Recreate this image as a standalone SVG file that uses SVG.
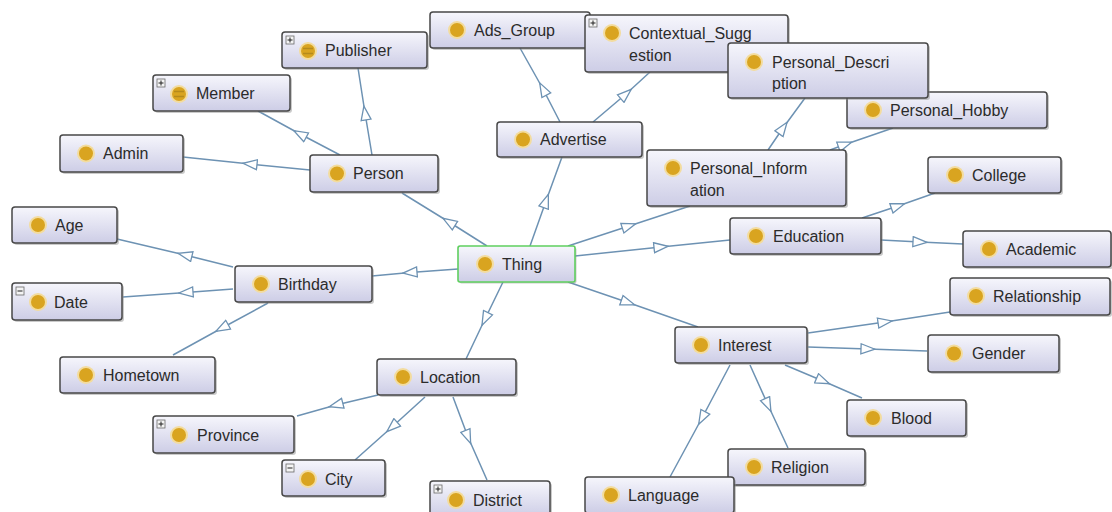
<svg xmlns="http://www.w3.org/2000/svg" width="1112" height="512" viewBox="0 0 1112 512">
<style>
.bg{fill:#fff}
.e{fill:none;stroke:#6d92b3;stroke-width:1.5;marker-mid:url(#ah)}
.sh{fill:#8a8a8a;opacity:.45}
.box{fill:url(#g);stroke:#474747;stroke-width:1.5}
.thing{fill:url(#g);stroke:#5fcf5f;stroke-width:1.6}
.halo{fill:#f3dc9e}
.dot{fill:#d9a420}
.pb{fill:#f4f4f4;stroke:#6a6a6a;stroke-width:.8}
.pl{stroke:#222;stroke-width:1}
.eq{stroke:#b58a1c;stroke-width:1.4}
text{font-family:"Liberation Sans",Arial,sans-serif;font-size:16px;fill:#2b2b2b}
</style>
<defs>
<linearGradient id="g" x1="0" y1="0" x2="0" y2="1">
<stop offset="0" stop-color="#f6f6fc"/>
<stop offset="1" stop-color="#cdcde6"/>
</linearGradient>
<marker id="ah" viewBox="0 0 16 12" refX="8" refY="6" markerWidth="16" markerHeight="12" orient="auto" markerUnits="userSpaceOnUse">
<path d="M1,1 L15,6 L1,11 Z" fill="#fff" stroke="#6d92b3" stroke-width="1.3"/>
</marker>
</defs>
<rect class="bg" width="1112" height="512"/>
<g id="connectors">
<path class="e" d="M487,246 L449,222 L402,193"/>
<path class="e" d="M530,246 L546,201 L562,157"/>
<path class="e" d="M568,246 L629,226 L690,206"/>
<path class="e" d="M575,256 L661,247 L730,240"/>
<path class="e" d="M568,282 L628,302.5 L698,327"/>
<path class="e" d="M503,282 L485,319 L466,359"/>
<path class="e" d="M458,269 L410,272.5 L372,276"/>
<path class="e" d="M310,170 L250,164 L183,157"/>
<path class="e" d="M340,155 L300,134 L258,111"/>
<path class="e" d="M372,155 L365,113 L358,68"/>
<path class="e" d="M560,122 L543,89 L520,48"/>
<path class="e" d="M593,122 L626,94 L650,72"/>
<path class="e" d="M768,150 L783,128 L805,98"/>
<path class="e" d="M830,150 L845,144.5 L893,128"/>
<path class="e" d="M862,218 L898,206 L935,193"/>
<path class="e" d="M881,240 L920,242 L963,244"/>
<path class="e" d="M233,267 L185,255 L117,239"/>
<path class="e" d="M233,289 L186,292.5 L123,297"/>
<path class="e" d="M268,303 L222,328 L173,355"/>
<path class="e" d="M378,395 L336,405 L297,416"/>
<path class="e" d="M425,397 L392,427 L355,460"/>
<path class="e" d="M453,397 L468,437 L487,480"/>
<path class="e" d="M808,333 L885,322 L950,312"/>
<path class="e" d="M808,347 L868,349 L927,351"/>
<path class="e" d="M785,365 L823,381 L862,398"/>
<path class="e" d="M750,365 L768,405 L788,448"/>
<path class="e" d="M730,365 L702,418 L670,477"/>
</g>
<g id="n-Publisher" transform="translate(282,32)">
<rect class="sh" x="2" y="2" width="145" height="36" rx="3"/><rect class="box" width="145" height="36" rx="3"/>
<rect class="pb" x="4" y="4" width="8" height="8"/><path class="pl" d="M5.5,8H10.5M8,5.5V10.5"/>
<circle class="halo" cx="26" cy="19" r="9"/><circle class="dot" cx="26" cy="19" r="7"/><path class="eq" d="M21,16.5H31M21,21.5H31"/>
<text x="43" y="24">Publisher</text></g>
<g id="n-Ads_Group" transform="translate(430,12)">
<rect class="sh" x="2" y="2" width="160" height="36" rx="3"/><rect class="box" width="160" height="36" rx="3"/>
<circle class="halo" cx="27" cy="18" r="9"/><circle class="dot" cx="27" cy="18" r="7"/>
<text x="44" y="23.5">Ads_Group</text></g>
<g id="n-Contextual_Suggestion" transform="translate(585,15)">
<rect class="sh" x="2" y="2" width="203" height="57" rx="3"/><rect class="box" width="203" height="57" rx="3"/>
<rect class="pb" x="4" y="4" width="8" height="8"/><path class="pl" d="M5.5,8H10.5M8,5.5V10.5"/>
<circle class="halo" cx="27" cy="18" r="9"/><circle class="dot" cx="27" cy="18" r="7"/>
<text x="44" y="24">Contextual_Sugg</text><text x="44" y="46">estion</text></g>
<g id="n-Personal_Hobby" transform="translate(847,92)">
<rect class="sh" x="2" y="2" width="200" height="36" rx="3"/><rect class="box" width="200" height="36" rx="3"/>
<circle class="halo" cx="26" cy="18" r="9"/><circle class="dot" cx="26" cy="18" r="7"/>
<text x="43" y="23.5">Personal_Hobby</text></g>
<g id="n-Personal_Description" transform="translate(728,43)">
<rect class="sh" x="2" y="2" width="200" height="55" rx="3"/><rect class="box" width="200" height="55" rx="3"/>
<circle class="halo" cx="26" cy="19" r="9"/><circle class="dot" cx="26" cy="19" r="7"/>
<text x="44" y="24.5">Personal_Descri</text><text x="44" y="45.5">ption</text></g>
<g id="n-Member" transform="translate(153,75)">
<rect class="sh" x="2" y="2" width="137" height="36" rx="3"/><rect class="box" width="137" height="36" rx="3"/>
<rect class="pb" x="4" y="4" width="8" height="8"/><path class="pl" d="M5.5,8H10.5M8,5.5V10.5"/>
<circle class="halo" cx="26" cy="19" r="9"/><circle class="dot" cx="26" cy="19" r="7"/><path class="eq" d="M21,16.5H31M21,21.5H31"/>
<text x="43" y="24">Member</text></g>
<g id="n-Admin" transform="translate(60,135)">
<rect class="sh" x="2" y="2" width="123" height="37" rx="3"/><rect class="box" width="123" height="37" rx="3"/>
<circle class="halo" cx="26" cy="18.5" r="9"/><circle class="dot" cx="26" cy="18.5" r="7"/>
<text x="43" y="24">Admin</text></g>
<g id="n-Person" transform="translate(310,155)">
<rect class="sh" x="2" y="2" width="128" height="37" rx="3"/><rect class="box" width="128" height="37" rx="3"/>
<circle class="halo" cx="27" cy="18.5" r="9"/><circle class="dot" cx="27" cy="18.5" r="7"/>
<text x="43" y="24">Person</text></g>
<g id="n-Advertise" transform="translate(497,122)">
<rect class="sh" x="2" y="2" width="145" height="35" rx="3"/><rect class="box" width="145" height="35" rx="3"/>
<circle class="halo" cx="26" cy="17.5" r="9"/><circle class="dot" cx="26" cy="17.5" r="7"/>
<text x="43" y="23">Advertise</text></g>
<g id="n-Personal_Information" transform="translate(647,150)">
<rect class="sh" x="2" y="2" width="199" height="56" rx="3"/><rect class="box" width="199" height="56" rx="3"/>
<circle class="halo" cx="26" cy="18" r="9"/><circle class="dot" cx="26" cy="18" r="7"/>
<text x="43" y="24">Personal_Inform</text><text x="43" y="46">ation</text></g>
<g id="n-College" transform="translate(928,157)">
<rect class="sh" x="2" y="2" width="133" height="36" rx="3"/><rect class="box" width="133" height="36" rx="3"/>
<circle class="halo" cx="27" cy="18" r="9"/><circle class="dot" cx="27" cy="18" r="7"/>
<text x="44" y="23.5">College</text></g>
<g id="n-Education" transform="translate(730,218)">
<rect class="sh" x="2" y="2" width="151" height="36" rx="3"/><rect class="box" width="151" height="36" rx="3"/>
<circle class="halo" cx="26" cy="18" r="9"/><circle class="dot" cx="26" cy="18" r="7"/>
<text x="43" y="23.5">Education</text></g>
<g id="n-Academic" transform="translate(963,231)">
<rect class="sh" x="2" y="2" width="148" height="36" rx="3"/><rect class="box" width="148" height="36" rx="3"/>
<circle class="halo" cx="26" cy="18" r="9"/><circle class="dot" cx="26" cy="18" r="7"/>
<text x="43" y="23.5">Academic</text></g>
<g id="n-Age" transform="translate(12,207)">
<rect class="sh" x="2" y="2" width="105" height="36" rx="3"/><rect class="box" width="105" height="36" rx="3"/>
<circle class="halo" cx="26" cy="18" r="9"/><circle class="dot" cx="26" cy="18" r="7"/>
<text x="43" y="23.5">Age</text></g>
<g id="n-Date" transform="translate(12,283)">
<rect class="sh" x="2" y="2" width="110" height="37" rx="3"/><rect class="box" width="110" height="37" rx="3"/>
<rect class="pb" x="4" y="4" width="8" height="8"/><path class="pl" d="M5.5,8H10.5"/>
<circle class="halo" cx="26" cy="19" r="9"/><circle class="dot" cx="26" cy="19" r="7"/>
<text x="42" y="24.5">Date</text></g>
<g id="n-Birthday" transform="translate(235,266)">
<rect class="sh" x="2" y="2" width="137" height="36" rx="3"/><rect class="box" width="137" height="36" rx="3"/>
<circle class="halo" cx="26" cy="18" r="9"/><circle class="dot" cx="26" cy="18" r="7"/>
<text x="43" y="23.5">Birthday</text></g>
<g id="n-Hometown" transform="translate(60,357)">
<rect class="sh" x="2" y="2" width="155" height="36" rx="3"/><rect class="box" width="155" height="36" rx="3"/>
<circle class="halo" cx="26" cy="18" r="9"/><circle class="dot" cx="26" cy="18" r="7"/>
<text x="43" y="23.5">Hometown</text></g>
<g id="n-Thing" transform="translate(458,246)">
<rect class="sh" x="1.5" y="1.5" width="117" height="36" rx="2" opacity=".2"/><rect class="thing" width="117" height="36" rx="2"/>
<circle class="halo" cx="27" cy="18" r="9"/><circle class="dot" cx="27" cy="18" r="7"/>
<text x="44" y="23.5">Thing</text></g>
<g id="n-Location" transform="translate(377,359)">
<rect class="sh" x="2" y="2" width="139" height="36" rx="3"/><rect class="box" width="139" height="36" rx="3"/>
<circle class="halo" cx="26" cy="18" r="9"/><circle class="dot" cx="26" cy="18" r="7"/>
<text x="43" y="23.5">Location</text></g>
<g id="n-Province" transform="translate(153,416)">
<rect class="sh" x="2" y="2" width="141" height="37" rx="3"/><rect class="box" width="141" height="37" rx="3"/>
<rect class="pb" x="4" y="4" width="8" height="8"/><path class="pl" d="M5.5,8H10.5M8,5.5V10.5"/>
<circle class="halo" cx="26" cy="19" r="9"/><circle class="dot" cx="26" cy="19" r="7"/>
<text x="44" y="24.5">Province</text></g>
<g id="n-City" transform="translate(282,460)">
<rect class="sh" x="2" y="2" width="103" height="36" rx="3"/><rect class="box" width="103" height="36" rx="3"/>
<rect class="pb" x="4" y="4" width="8" height="8"/><path class="pl" d="M5.5,8H10.5"/>
<circle class="halo" cx="26" cy="19" r="9"/><circle class="dot" cx="26" cy="19" r="7"/>
<text x="43" y="24.5">City</text></g>
<g id="n-District" transform="translate(430,481)">
<rect class="sh" x="2" y="2" width="120" height="36" rx="3"/><rect class="box" width="120" height="36" rx="3"/>
<rect class="pb" x="4" y="4" width="8" height="8"/><path class="pl" d="M5.5,8H10.5M8,5.5V10.5"/>
<circle class="halo" cx="26" cy="19" r="9"/><circle class="dot" cx="26" cy="19" r="7"/>
<text x="43" y="24.5">District</text></g>
<g id="n-Interest" transform="translate(675,327)">
<rect class="sh" x="2" y="2" width="132" height="36" rx="3"/><rect class="box" width="132" height="36" rx="3"/>
<circle class="halo" cx="26" cy="18" r="9"/><circle class="dot" cx="26" cy="18" r="7"/>
<text x="43" y="23.5">Interest</text></g>
<g id="n-Relationship" transform="translate(950,278)">
<rect class="sh" x="2" y="2" width="160" height="37" rx="3"/><rect class="box" width="160" height="37" rx="3"/>
<circle class="halo" cx="26" cy="18" r="9"/><circle class="dot" cx="26" cy="18" r="7"/>
<text x="43" y="23.5">Relationship</text></g>
<g id="n-Gender" transform="translate(928,335)">
<rect class="sh" x="2" y="2" width="131" height="37" rx="3"/><rect class="box" width="131" height="37" rx="3"/>
<circle class="halo" cx="26" cy="18.5" r="9"/><circle class="dot" cx="26" cy="18.5" r="7"/>
<text x="44" y="24">Gender</text></g>
<g id="n-Blood" transform="translate(847,400)">
<rect class="sh" x="2" y="2" width="119" height="36" rx="3"/><rect class="box" width="119" height="36" rx="3"/>
<circle class="halo" cx="26" cy="18" r="9"/><circle class="dot" cx="26" cy="18" r="7"/>
<text x="44" y="23.5">Blood</text></g>
<g id="n-Religion" transform="translate(728,449)">
<rect class="sh" x="2" y="2" width="137" height="36" rx="3"/><rect class="box" width="137" height="36" rx="3"/>
<circle class="halo" cx="26" cy="18" r="9"/><circle class="dot" cx="26" cy="18" r="7"/>
<text x="43" y="23.5">Religion</text></g>
<g id="n-Language" transform="translate(585,477)">
<rect class="sh" x="2" y="2" width="149" height="36" rx="3"/><rect class="box" width="149" height="36" rx="3"/>
<circle class="halo" cx="26" cy="18" r="9"/><circle class="dot" cx="26" cy="18" r="7"/>
<text x="43" y="23.5">Language</text></g>
</svg>
